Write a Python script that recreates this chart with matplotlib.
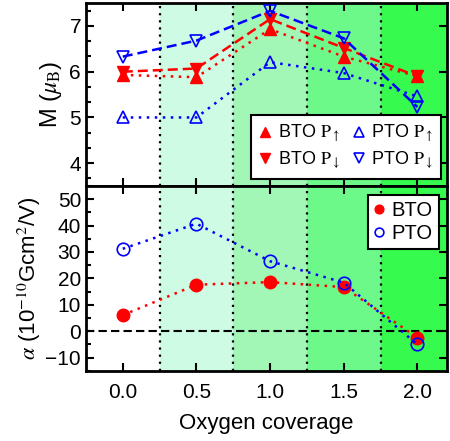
import numpy as np
import matplotlib
matplotlib.use('Agg')
import matplotlib.pyplot as plt
from matplotlib.ticker import MultipleLocator

plt.rcParams['font.family'] = ['Liberation Sans', 'DejaVu Sans']
plt.rcParams['mathtext.fontset'] = 'stix'

# 데이터
coverage = [0.0, 0.5, 1.0, 1.5, 2.0]
bto_up = [5.93, 5.88, 6.93, 6.33, 5.90]
bto_down = [6.00, 6.07, 7.15, 6.52, 5.90]
pto_up = [5.00, 5.00, 6.21, 5.97, 5.46]
pto_down = [6.33, 6.68, 7.33, 6.73, 5.23]
alpha_bto = [6.1, 17.6, 18.6, 16.7, -2.4]
alpha_pto = [31.2, 40.7, 26.5, 18.4, -5.0]

region_edges = [0.25, 0.75, 1.25, 1.75, 2.2]
region_colors = ['#cdfbe4', '#a2f6b6', '#6cf98a', '#36fa4e']

fig = plt.figure(figsize=(4.5, 4.41), dpi=100)
ax1 = fig.add_axes([0.191, 0.578, 0.802, 0.415])
ax2 = fig.add_axes([0.191, 0.159, 0.802, 0.4195])

dot = (0, (1, 2.2))
dash = (0, (4, 2))

for ax in (ax1, ax2):
    for i in range(len(region_colors)):
        ax.axvspan(region_edges[i], region_edges[i + 1], color=region_colors[i], lw=0, zorder=0)
    for x in region_edges[:-1]:
        ax.axvline(x, color='k', ls=dot, lw=1.6, zorder=1)
    ax.set_xlim(-0.25, 2.2)
    ax.xaxis.set_major_locator(MultipleLocator(0.5))
    ax.tick_params(which='both', direction='in', top=True, right=True, width=1.5)
    ax.tick_params(which='major', length=6, labelsize=15)
    ax.tick_params(which='minor', length=3.5, right=False)
    for s in ax.spines.values():
        s.set_linewidth(2)

# 위 패널 : 자기모멘트
ax1.plot(coverage, bto_up, color='red', ls=dot, lw=1.8, marker='^', ms=9, label=r'BTO $\mathrm{P}_{\uparrow}$', zorder=3)
ax1.plot(coverage, bto_down, color='red', ls=dash, lw=1.8, marker='v', ms=9, label=r'BTO $\mathrm{P}_{\downarrow}$', zorder=3)
ax1.plot(coverage, pto_up, color='blue', ls=dot, lw=1.8, marker='^', ms=9, mfc='none', mew=1.2, label=r'PTO $\mathrm{P}_{\uparrow}$', zorder=3)
ax1.plot(coverage, pto_down, color='blue', ls=dash, lw=1.8, marker='v', ms=9, mfc='none', mew=1.2, label=r'PTO $\mathrm{P}_{\downarrow}$', zorder=3)
ax1.set_ylim(3.5, 7.5)
ax1.yaxis.set_major_locator(MultipleLocator(1))
ax1.yaxis.set_minor_locator(MultipleLocator(1 / 3))
ax1.tick_params(labelbottom=False)
ax1.set_ylabel(r'M ($\mu_{\rm B}$)', fontsize=17, labelpad=4)
leg1 = ax1.legend(loc='lower right', bbox_to_anchor=(1.01, -0.012), ncol=2, fontsize=13,
                  handlelength=0.7, handletextpad=0.35, columnspacing=0.7, labelspacing=0.3,
                  borderpad=0.45, fancybox=False, framealpha=1, edgecolor='k', markerscale=0.85)
leg1.get_frame().set_linewidth(1.5)
for h in leg1.legend_handles:
    h.set_linestyle('none')

# 아래 패널 : alpha
ax2.axhline(0, color='k', ls=(0, (4, 2)), lw=1.5, zorder=2)
ax2.plot(coverage, alpha_bto, color='red', ls=dot, lw=1.8, marker='o', ms=9, label='BTO', zorder=3)
ax2.plot(coverage, alpha_pto, color='blue', ls=dot, lw=1.8, marker='o', ms=9, mfc='none', mew=1.2, label='PTO', zorder=3)
ax2.set_ylim(-15, 55)
ax2.yaxis.set_major_locator(MultipleLocator(10))
ax2.yaxis.set_minor_locator(MultipleLocator(5))
ax2.tick_params(axis='x', pad=9)
ax2.set_ylabel(r'$\alpha$ (10$^{-10}$Gcm$^2$/V)', fontsize=16, labelpad=2)
ax2.set_xlabel('Oxygen coverage', fontsize=16, labelpad=8)
leg2 = ax2.legend(loc='upper right', bbox_to_anchor=(1.006, 1.006), fontsize=14.5,
                  handlelength=0.5, handletextpad=0.4, labelspacing=0.2, borderpad=0.3,
                  fancybox=False, framealpha=1, edgecolor='k', markerscale=0.7)
leg2.get_frame().set_linewidth(1.5)
for h in leg2.legend_handles:
    h.set_linestyle('none')

fig.savefig('out.png', dpi=100)
